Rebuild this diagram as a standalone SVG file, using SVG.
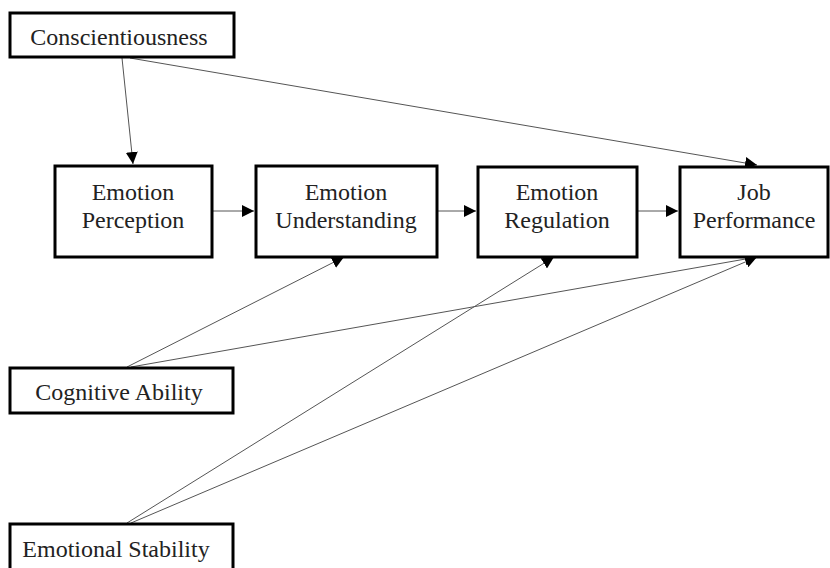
<svg xmlns="http://www.w3.org/2000/svg" width="830" height="568" viewBox="0 0 830 568">
<style>
.box{fill:#fff;stroke:#000;stroke-width:3}
.t{font-family:"Liberation Serif","Times New Roman",serif;font-size:24px;fill:#222;text-anchor:middle}
.c{stroke:#555;stroke-width:1;fill:none;marker-end:url(#ah)}
</style>
<defs>
<marker id="ah" markerUnits="userSpaceOnUse" markerWidth="12" markerHeight="12" viewBox="0 0 12 12" refX="12" refY="6" orient="auto">
<path d="M0,0 L12,6 L0,12 Z" fill="#000"/>
</marker>
</defs>
<rect width="830" height="568" fill="#fff"/>
<g id="connectors">
<line class="c" x1="122" y1="58" x2="133" y2="164"/>
<line class="c" x1="130" y1="58" x2="757" y2="165"/>
<line class="c" x1="213" y1="211" x2="254" y2="211"/>
<line class="c" x1="438" y1="211" x2="476" y2="211"/>
<line class="c" x1="638" y1="211" x2="678" y2="211"/>
<line class="c" x1="127" y1="367" x2="344" y2="257"/>
<line class="c" x1="131" y1="367" x2="757" y2="257"/>
<line class="c" x1="127" y1="523" x2="554" y2="257"/>
<line class="c" x1="131" y1="523" x2="757" y2="257"/>
</g>
<g id="conscientiousness">
<rect class="box" x="10" y="13" width="224" height="44"/>
<text class="t" x="119" y="45">Conscientiousness</text>
</g>
<g id="emotion-perception">
<rect class="box" x="55" y="166" width="157" height="91"/>
<text class="t" x="133" y="200">Emotion</text>
<text class="t" x="133" y="228">Perception</text>
</g>
<g id="emotion-understanding">
<rect class="box" x="256" y="166" width="181" height="91"/>
<text class="t" x="346" y="200">Emotion</text>
<text class="t" x="346" y="228">Understanding</text>
</g>
<g id="emotion-regulation">
<rect class="box" x="478" y="167" width="159" height="90"/>
<text class="t" x="557" y="200">Emotion</text>
<text class="t" x="557" y="228">Regulation</text>
</g>
<g id="job-performance">
<rect class="box" x="680" y="167" width="148" height="90"/>
<text class="t" x="754" y="200">Job</text>
<text class="t" x="754" y="228">Performance</text>
</g>
<g id="cognitive-ability">
<rect class="box" x="10" y="368" width="223" height="45"/>
<text class="t" x="119" y="400">Cognitive Ability</text>
</g>
<g id="emotional-stability">
<rect class="box" x="10" y="524" width="223" height="50"/>
<text class="t" x="116" y="557">Emotional Stability</text>
</g>
</svg>
